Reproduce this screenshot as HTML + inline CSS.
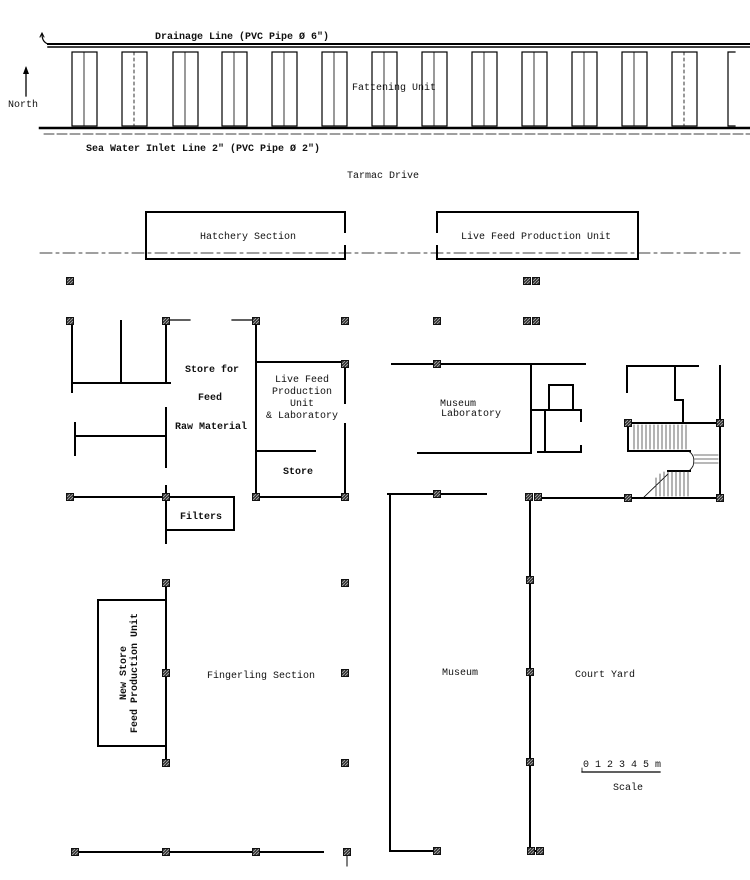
<!DOCTYPE html>
<html><head><meta charset="utf-8"><style>
html,body{margin:0;padding:0;background:#fff;}
svg{display:block;}
text{font-family:"Liberation Mono",monospace;fill:#111;font-size:10px;}
.b{font-weight:bold;}
</style></head><body>
<svg width="750" height="880" viewBox="0 0 750 880" xmlns="http://www.w3.org/2000/svg">
<defs>
<pattern id="h" width="3" height="3" patternUnits="userSpaceOnUse"><rect width="3" height="3" fill="#333"/><path d="M0 3L3 0" stroke="#bbb" stroke-width="0.7"/></pattern>
<g id="c"><rect x="-3.5" y="-3.5" width="7" height="7" fill="url(#h)" stroke="#111" stroke-width="1"/></g>
</defs>
<g stroke="#000" fill="none" stroke-linecap="square">
<line x1="48" y1="44" x2="750" y2="44" stroke-width="2"/>
<line x1="48" y1="47" x2="750" y2="47" stroke-width="1.5"/>
<path d="M48 44 Q42 42 42 34" stroke-width="1.2"/>
<path d="M40 37 L42 33 L44 37" stroke-width="1"/>
<line x1="26" y1="68" x2="26" y2="96" stroke-width="1.3"/>
<path d="M23 74 L26 66 L29 74Z" fill="#000" stroke="none"/>
<g stroke-width="1.2">
<rect x="72" y="52" width="25" height="74"/><rect x="122" y="52" width="25" height="74"/>
<rect x="173" y="52" width="25" height="74"/><rect x="222" y="52" width="25" height="74"/>
<rect x="272" y="52" width="25" height="74"/><rect x="322" y="52" width="25" height="74"/>
<rect x="372" y="52" width="25" height="74"/><rect x="422" y="52" width="25" height="74"/>
<rect x="472" y="52" width="25" height="74"/><rect x="522" y="52" width="25" height="74"/>
<rect x="572" y="52" width="25" height="74"/><rect x="622" y="52" width="25" height="74"/>
<rect x="672" y="52" width="25" height="74"/><path d="M735 52 H728 V126 H735"/>
</g>
<g stroke-width="0.8">
<line x1="84" y1="52" x2="84" y2="126"/><line x1="134" y1="52" x2="134" y2="126" stroke-dasharray="3 3"/>
<line x1="185" y1="52" x2="185" y2="126"/><line x1="234" y1="52" x2="234" y2="126"/>
<line x1="284" y1="52" x2="284" y2="126"/><line x1="334" y1="52" x2="334" y2="126"/>
<line x1="384" y1="52" x2="384" y2="126"/><line x1="434" y1="52" x2="434" y2="126"/>
<line x1="484" y1="52" x2="484" y2="126"/><line x1="534" y1="52" x2="534" y2="126"/>
<line x1="584" y1="52" x2="584" y2="126"/><line x1="634" y1="52" x2="634" y2="126"/>
<line x1="684" y1="52" x2="684" y2="126" stroke-dasharray="3 3"/>
</g>
<line x1="40" y1="128" x2="750" y2="128" stroke-width="2.5"/>
<line x1="44" y1="134" x2="750" y2="134" stroke-width="0.8" stroke-dasharray="10 3"/>
<line x1="40" y1="253" x2="740" y2="253" stroke-width="0.8" stroke-dasharray="12 4 3 4"/>
<path d="M345 232 V212 H146 V259 H345 V246" stroke-width="2"/>
<path d="M437 232 V212 H638 V259 H437 V246" stroke-width="2"/>
<g stroke-width="2">
<line x1="72" y1="321" x2="72" y2="392"/>
<line x1="121" y1="321" x2="121" y2="383"/>
<line x1="166" y1="321" x2="166" y2="383"/>
<line x1="72" y1="383" x2="170" y2="383"/>
<line x1="166" y1="320" x2="190" y2="320" stroke-width="1.2"/>
<line x1="232" y1="320" x2="256" y2="320" stroke-width="1.2"/>
<line x1="75" y1="436" x2="166" y2="436"/>
<line x1="75" y1="423" x2="75" y2="455"/>
<line x1="166" y1="408" x2="166" y2="467"/>
<line x1="72" y1="497" x2="166" y2="497"/>
<line x1="166" y1="486" x2="166" y2="543"/>
<rect x="166" y="497" width="68" height="33"/>
<line x1="256" y1="321" x2="256" y2="497"/>
<line x1="256" y1="362" x2="345" y2="362"/>
<line x1="345" y1="362" x2="345" y2="403"/>
<line x1="345" y1="424" x2="345" y2="497"/>
<line x1="256" y1="451" x2="315" y2="451"/>
<line x1="256" y1="497" x2="345" y2="497"/>
<line x1="392" y1="364" x2="585" y2="364"/>
<line x1="531" y1="364" x2="531" y2="453"/>
<line x1="418" y1="453" x2="530" y2="453"/>
<rect x="549" y="385" width="24" height="25"/>
<line x1="531" y1="410" x2="581" y2="410"/>
<line x1="581" y1="410" x2="581" y2="421"/>
<line x1="545" y1="410" x2="545" y2="452"/>
<line x1="538" y1="452" x2="581" y2="452"/>
<line x1="581" y1="446" x2="581" y2="452"/>
<line x1="627" y1="366" x2="698" y2="366"/>
<line x1="627" y1="366" x2="627" y2="392"/>
<path d="M675 366 V400 H683 V423"/>
<line x1="720" y1="366" x2="720" y2="498"/>
<line x1="628" y1="423" x2="720" y2="423"/>
<line x1="628" y1="423" x2="628" y2="451"/>
<line x1="628" y1="451" x2="690" y2="451"/>
<line x1="668" y1="471" x2="690" y2="471"/>
<line x1="537" y1="498" x2="720" y2="498"/>
<line x1="388" y1="494" x2="486" y2="494"/>
<line x1="390" y1="494" x2="390" y2="851"/>
<line x1="390" y1="851" x2="437" y2="851"/>
<line x1="530" y1="497" x2="530" y2="851"/>
<line x1="530" y1="851" x2="541" y2="851"/>
<line x1="166" y1="583" x2="166" y2="762"/>
<rect x="98" y="600" width="68" height="146"/>
<line x1="72" y1="852" x2="323" y2="852"/>
<line x1="347" y1="852" x2="347" y2="866" stroke-width="1"/>
</g>
<g stroke-width="0.8">
<path d="M688 451 Q696 455 693 466 Q690 471 688 471"/>
<path d="M643 498 L668 474"/>
<g stroke="#444"><path d="M634 425V449M638 425V449M642 425V449M646 425V449M650 425V449M654 425V449M658 425V449M662 425V449M666 425V449M670 425V449M674 425V449M678 425V449M682 425V449M686 425V449"/>
<path d="M656 478V496M660 474V496M664 472V496M668 472V496M672 472V496M676 472V496M680 472V496M684 472V496M688 472V496M694 455H718M694 459H718M694 463H718"/></g>
<line x1="582" y1="772" x2="660" y2="772" stroke-width="1.3"/>
<line x1="582" y1="768" x2="582" y2="772"/>
</g>
</g>
<g>
<use href="#c" x="70" y="281"/><use href="#c" x="527" y="281"/><use href="#c" x="536" y="281"/>
<use href="#c" x="70" y="321"/><use href="#c" x="166" y="321"/><use href="#c" x="256" y="321"/><use href="#c" x="345" y="321"/><use href="#c" x="437" y="321"/><use href="#c" x="527" y="321"/><use href="#c" x="536" y="321"/>
<use href="#c" x="345" y="364"/><use href="#c" x="437" y="364"/>
<use href="#c" x="70" y="497"/><use href="#c" x="166" y="497"/><use href="#c" x="256" y="497"/><use href="#c" x="345" y="497"/>
<use href="#c" x="437" y="494"/><use href="#c" x="529" y="497"/><use href="#c" x="538" y="497"/>
<use href="#c" x="628" y="423"/><use href="#c" x="720" y="423"/><use href="#c" x="628" y="498"/><use href="#c" x="720" y="498"/>
<use href="#c" x="166" y="583"/><use href="#c" x="345" y="583"/><use href="#c" x="530" y="580"/>
<use href="#c" x="166" y="673"/><use href="#c" x="345" y="673"/><use href="#c" x="530" y="672"/>
<use href="#c" x="166" y="763"/><use href="#c" x="345" y="763"/><use href="#c" x="530" y="762"/>
<use href="#c" x="75" y="852"/><use href="#c" x="166" y="852"/><use href="#c" x="256" y="852"/><use href="#c" x="347" y="852"/>
<use href="#c" x="437" y="851"/><use href="#c" x="531" y="851"/><use href="#c" x="540" y="851"/>
</g>
<text x="155" y="39" class="b">Drainage Line  (PVC Pipe Ø 6")</text>
<text x="8" y="107" font-size="9">North</text>
<text x="352" y="90" font-size="9">Fattening Unit</text>
<text x="86" y="151" class="b" font-size="9">Sea Water Inlet Line 2" (PVC Pipe Ø 2")</text>
<text x="347" y="178" font-size="9">Tarmac Drive</text>
<text x="200" y="239" font-size="9">Hatchery Section</text>
<text x="461" y="239" font-size="10">Live Feed Production Unit</text>
<text x="185" y="372" class="b" font-size="9">Store for</text>
<text x="198" y="400" class="b" font-size="9">Feed</text>
<text x="175" y="429" class="b" font-size="9">Raw Material</text>
<text x="180" y="519" class="b" font-size="9">Filters</text>
<text x="298" y="474" class="b" font-size="9" text-anchor="middle">Store</text>
<text x="302" y="382" font-size="9" text-anchor="middle">Live Feed</text>
<text x="302" y="394" font-size="9" text-anchor="middle">Production</text>
<text x="302" y="406" font-size="9" text-anchor="middle">Unit</text>
<text x="302" y="418" font-size="9" text-anchor="middle">&amp; Laboratory</text>
<text x="440" y="406" font-size="9">Museum</text>
<text x="441" y="416" font-size="9">Laboratory</text>
<text x="207" y="678" font-size="9">Fingerling Section</text>
<text x="442" y="675" font-size="9">Museum</text>
<text x="575" y="677" font-size="9">Court Yard</text>
<text x="613" y="790" font-size="9">Scale</text>
<text x="583" y="767" font-size="7">0  1  2  3  4 5 m</text>
<g transform="translate(126 673) rotate(-90)">
<text x="0" y="0" font-size="9" class="b" text-anchor="middle">New Store</text>
<text x="0" y="11" font-size="9" class="b" text-anchor="middle">Feed Production Unit</text>
</g>
</svg>
</body></html>
